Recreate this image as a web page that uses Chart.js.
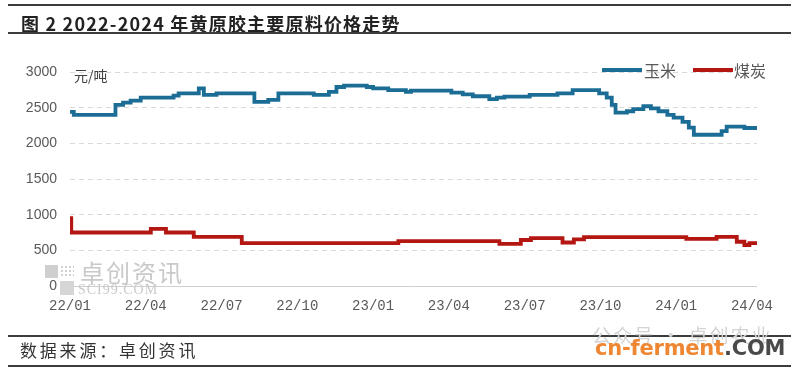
<!DOCTYPE html>
<html>
<head>
<meta charset="utf-8">
<script src="https://cdn.jsdelivr.net/npm/chart.js@4"></script>
<style>
  body { margin: 0; background: #fff; }
  #wrap { position: relative; width: 800px; height: 371px; overflow: hidden; font-family: "Noto Sans CJK SC", sans-serif; }
  #priceChart { position: absolute; left: 0; top: 0; }
  .rule { position: absolute; left: 8px; width: 783px; height: 2px; background: #3c3c3c; }
  .abs { position: absolute; white-space: nowrap; }
  #title { left: 21px; top: 11px; font-size: 18px; font-weight: bold; color: #222; letter-spacing: 1.2px; line-height: 24px; }
  #source { left: 20px; top: 339px; font-size: 17px; color: #333; letter-spacing: 2.8px; line-height: 22px; }
  #unit { left: 74px; top: 65px; font-size: 14px; color: #404040; line-height: 20px; }
  .legend-line { position: absolute; height: 4px; }
  .legend-text { position: absolute; font-size: 16px; color: #595959; line-height: 20px; }
  .wm { color: #c9c9c9; }
</style>
</head>
<body>
<div id="wrap">
  <canvas id="priceChart" width="800" height="371"></canvas>

  <div class="rule" style="top:4px"></div>
  <div class="abs" id="title">图 2 2022-2024 年黄原胶主要原料价格走势</div>
  <div class="rule" style="top:32px"></div>

  <div class="abs" id="unit">元/吨</div>
  <div id="legend"></div>

  <!-- watermark bottom-left -->
  <div class="abs" style="left:45px;top:265px;width:13px;height:13px;background:#cfcfcf"></div>
  <div class="abs" style="left:60px;top:281px;width:14px;height:14px;background:#d6d6d6"></div>
  <div class="abs" style="left:60px;top:265px;width:14px;height:13px;background:radial-gradient(#d0d0d0 35%, transparent 40%) 0 0/4px 4px"></div>
  <div class="abs wm" style="left:80px;top:258px;font-size:24px;letter-spacing:2px;line-height:28px">卓创资讯</div>
  <div class="abs wm" style="left:78px;top:282px;font-family:'Liberation Serif';font-size:14px;letter-spacing:1px;line-height:16px">SCI99.COM</div>

  <div class="rule" style="top:335px"></div>
  <div class="abs" id="source">数据来源：卓创资讯</div>
  <div class="rule" style="top:365px"></div>

  <!-- watermark bottom-right -->
  <div class="abs" style="left:592px;top:323px;font-size:19px;color:#d4d4d4;letter-spacing:2px;line-height:24px">公众号 · 卓创农业</div>
  <div class="abs" style="left:595px;top:335px;font-family:'DejaVu Sans';font-weight:bold;font-size:21px;line-height:26px;letter-spacing:-0.2px"><span style="color:#ef8631">cn-ferment</span><span style="color:#4a4a4a">.COM</span></div>
</div>

<script>
// Series data: x = months since 2022/01, y = price (元/吨)
const seriesNames = ["玉米", "煤炭"];

const cornMonths = [0, 0.15, 1.8, 2.1, 2.4, 2.8, 4.1, 4.3, 5.1, 5.3, 5.8, 7.3, 7.85, 8.25, 9.65, 10.25, 10.55, 10.85, 11.75, 12.0, 12.6, 13.3, 13.5, 15.1, 15.55, 15.95, 16.6, 16.9, 17.2, 18.2, 19.3, 19.9, 20.95, 21.25, 21.45, 21.6, 22.05, 22.3, 22.7, 23.0, 23.3, 23.65, 23.9, 24.25, 24.5, 24.7, 25.8, 26.0, 26.7, 27.2];
const cornPrices = [2440, 2400, 2540, 2570, 2600, 2640, 2670, 2700, 2770, 2680, 2700, 2580, 2610, 2700, 2680, 2720, 2790, 2810, 2790, 2770, 2745, 2720, 2740, 2710, 2685, 2660, 2620, 2640, 2655, 2680, 2700, 2745, 2700, 2640, 2540, 2430, 2450, 2480, 2520, 2490, 2450, 2400, 2360, 2300, 2220, 2120, 2170, 2235, 2215, 2215];

const coalMonths = [0, 0.05, 3.2, 3.8, 4.9, 6.8, 13.0, 17.0, 17.85, 18.25, 19.5, 19.95, 20.35, 24.4, 25.6, 26.4, 26.7, 26.9, 27.2];
const coalPrices = [950, 750, 800, 750, 690, 600, 630, 590, 645, 670, 610, 655, 685, 660, 690, 620, 575, 600, 575];

// Axis ticks
const xTickMonths = [0, 3, 6, 9, 12, 15, 18, 21, 24, 27];
const xTickLabels = ["22/01", "22/04", "22/07", "22/10", "23/01", "23/04", "23/07", "23/10", "24/01", "24/04"];

const seriesColors = ["#1b6d96", "#b41612"];

function toPoints(xs, ys) {
    return xs.map((x, i) => ({ x: x, y: ys[i] }));
}

const ctx = document.getElementById("priceChart").getContext("2d");
const priceChart = new Chart(ctx, {
    type: "line",
    data: {
        datasets: [
            { label: seriesNames[0], data: toPoints(cornMonths, cornPrices), borderColor: seriesColors[0], backgroundColor: seriesColors[0] },
            { label: seriesNames[1], data: toPoints(coalMonths, coalPrices), borderColor: seriesColors[1], backgroundColor: seriesColors[1] }
        ]
    },
    options: {
        responsive: false,
        animation: false,
        elements: {
            line: { borderWidth: 3.8, stepped: true },
            point: { radius: 0 }
        },
        layout: { padding: { left: 0, right: 43, top: 72, bottom: 0 } },
        plugins: {
            legend: { display: false },
            tooltip: { enabled: false }
        },
        scales: {
            x: {
                type: "linear",
                min: 0,
                max: 27.2,
                afterBuildTicks: (scale) => {
                    scale.ticks = xTickMonths.map(v => ({ value: v }));
                },
                afterFit: (scale) => { scale.height = 85; },
                ticks: {
                    autoSkip: false,
                    maxRotation: 0,
                    padding: 12,
                    color: "#595959",
                    font: { family: "Liberation Mono", size: 14 },
                    callback: (value) => xTickLabels[xTickMonths.indexOf(value)]
                },
                grid: { display: false, drawTicks: false },
                border: { display: false }
            },
            y: {
                min: 0,
                max: 3000,
                afterFit: (scale) => { scale.width = 70; },
                ticks: {
                    stepSize: 500,
                    padding: 13,
                    color: "#595959",
                    font: { family: "Liberation Sans", size: 14 },
                    callback: (value) => String(value)
                },
                grid: {
                    drawTicks: false,
                    lineWidth: 1,
                    color: (c) => (c.tick && c.tick.value === 0 ? "#cfcfcf" : "#d9d9d9")
                },
                border: {
                    display: false,
                    dash: (c) => (c.tick && c.tick.value === 0 ? [] : [5, 4])
                }
            }
        }
    }
});

// Legend drawn in the top right corner of the plot
const legendPos = [{ line: 602, text: 644 }, { line: 693, text: 734 }];
const legendEl = document.getElementById("legend");
priceChart.data.datasets.forEach((ds, i) => {
    const line = document.createElement("div");
    line.className = "legend-line";
    line.style.left = legendPos[i].line + "px";
    line.style.top = "68px";
    line.style.width = "40px";
    line.style.background = ds.borderColor;
    legendEl.appendChild(line);

    const text = document.createElement("div");
    text.className = "legend-text";
    text.style.left = legendPos[i].text + "px";
    text.style.top = "60px";
    text.textContent = ds.label;
    legendEl.appendChild(text);
});
</script>
</body>
</html>
